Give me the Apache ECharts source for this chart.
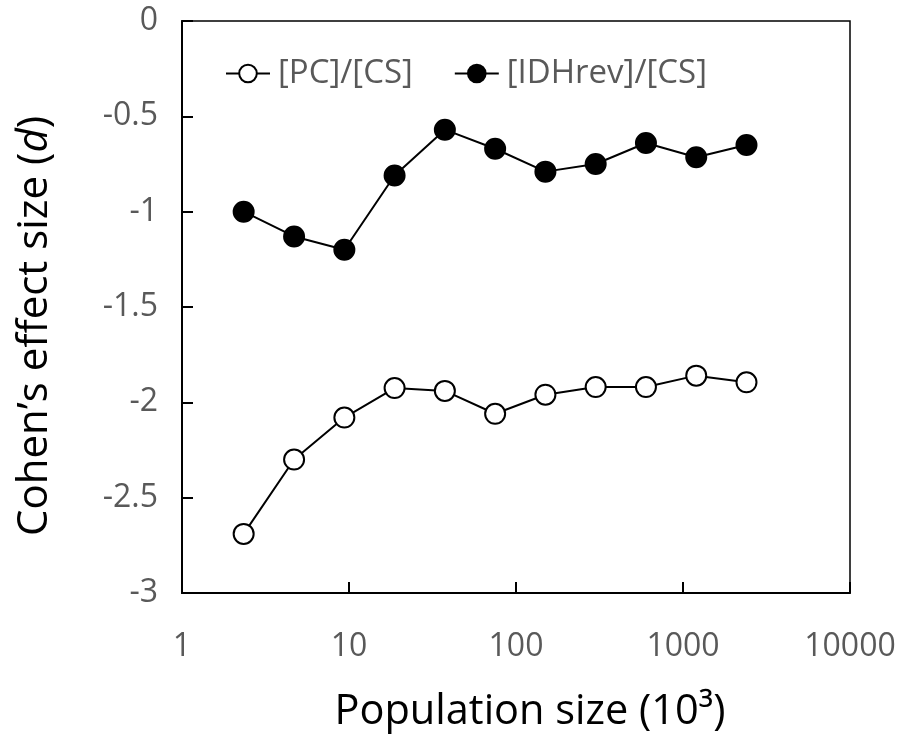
<!DOCTYPE html>
<html>
<head>
<meta charset="utf-8">
<script src="https://cdn.jsdelivr.net/npm/echarts@6/dist/echarts.min.js"></script>
<style>
html,body{margin:0;padding:0;background:#fff;}
#chart{width:903px;height:742px;}
</style>
</head>
<body>
<div id="chart"></div>
<script>
// Population size (10^3)
const populationSizes = [2.34, 4.69, 9.38, 18.75, 37.5, 75, 150, 300, 600, 1200, 2400];
// Cohen's d, [PC]/[CS]
const pcValues = [-2.69, -2.30, -2.08, -1.925, -1.94, -2.06, -1.96, -1.92, -1.92, -1.86, -1.895];
// Cohen's d, [IDHrev]/[CS]
const idhrevValues = [-1.00, -1.13, -1.20, -0.81, -0.57, -0.67, -0.79, -0.75, -0.64, -0.715, -0.65];
const seriesNames = ['[PC]/[CS]', '[IDHrev]/[CS]'];
const xTickLabels = ['1', '10', '100', '1000', '10000'];

const FONT = '"Open Sans", "Noto Sans", sans-serif';
const chart = echarts.init(document.getElementById('chart'), null, {renderer: 'canvas'});

function pairs(xs, ys) { return xs.map((x, i) => [x, ys[i]]); }

chart.setOption({
  backgroundColor: '#fff',
  animation: false,
  textStyle: {fontFamily: FONT},
  grid: {
    left: 182, right: 53, top: 21, bottom: 149,
    show: true, borderColor: '#000', borderWidth: 1.5, backgroundColor: 'transparent'
  },
  legend: {
    left: 225, top: 57, padding: 0,
    itemWidth: 44, itemHeight: 22, itemGap: 41,
    textStyle: {fontFamily: FONT, fontSize: 33, color: '#595959', padding: [0, 0, 0, 3]},
    data: seriesNames
  },
  xAxis: {
    type: 'log', logBase: 10, min: 1, max: 10000,
    name: 'Population size (10³)',
    nameLocation: 'middle', nameGap: 98,
    nameTextStyle: {fontFamily: FONT, fontSize: 41.5, color: '#000', padding: [0, 0, 0, 28]},
    axisLine: {show: true, onZero: false, lineStyle: {color: '#000', width: 2}},
    axisTick: {show: true, inside: true, length: 11, lineStyle: {color: '#000', width: 2}},
    minorTick: {show: false},
    splitLine: {show: false},
    axisLabel: {
      fontFamily: FONT, fontSize: 32, color: '#595959', margin: 38,
      formatter: function (v) { return xTickLabels[Math.round(Math.log10(v))]; }
    }
  },
  yAxis: {
    type: 'value', min: -3, max: 0, interval: 0.5,
    name: 'Cohen’s effect size ({i|d})',
    nameLocation: 'middle', nameGap: 126,
    nameTextStyle: {fontFamily: FONT, fontSize: 42, color: '#000', padding: [0, 38, 0, 0],
      rich: {i: {fontFamily: FONT, fontSize: 42, fontStyle: 'italic', color: '#000'}}},
    axisLine: {show: true, onZero: false, lineStyle: {color: '#000', width: 2}},
    axisTick: {show: true, inside: true, length: 11, lineStyle: {color: '#000', width: 2}},
    splitLine: {show: false},
    axisLabel: {fontFamily: FONT, fontSize: 32, color: '#595959', margin: 24}
  },
  series: [
    {
      name: seriesNames[0], type: 'line',
      data: pairs(populationSizes, pcValues),
      symbol: 'circle', symbolSize: 20,
      lineStyle: {color: '#000', width: 2},
      itemStyle: {color: '#fff', borderColor: '#000', borderWidth: 2}
    },
    {
      name: seriesNames[1], type: 'line',
      data: pairs(populationSizes, idhrevValues),
      symbol: 'circle', symbolSize: 20,
      lineStyle: {color: '#000', width: 2},
      itemStyle: {color: '#000', borderColor: '#000', borderWidth: 2}
    }
  ]
});
</script>
</body>
</html>
